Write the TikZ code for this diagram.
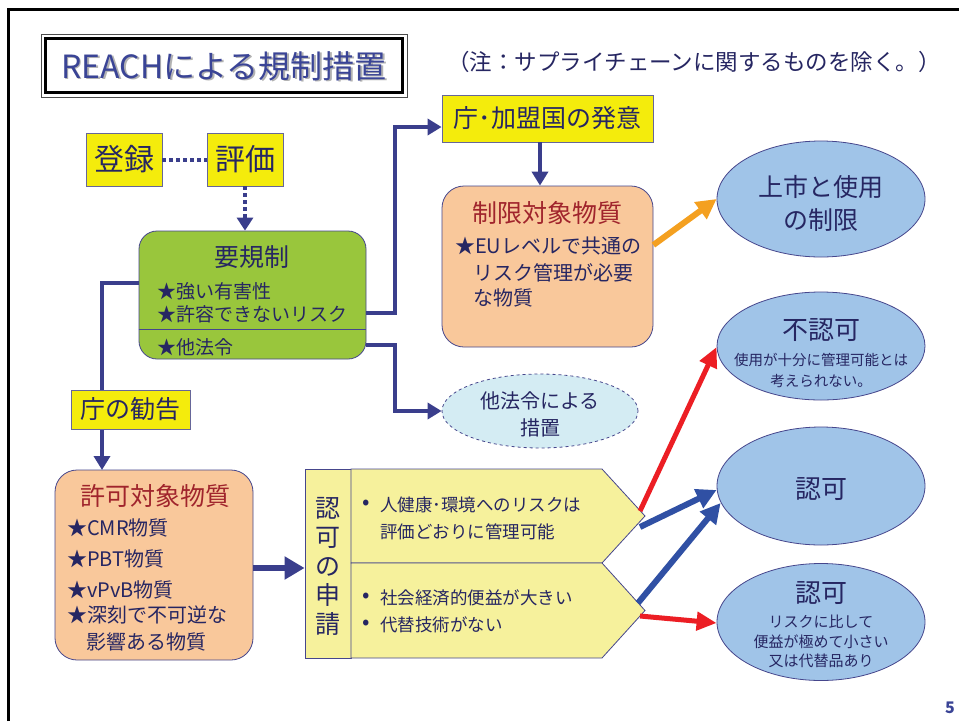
\documentclass[tikz,border=0pt]{standalone}
\usepackage{fontspec}
\setmainfont{Noto Sans CJK JP}
\usetikzlibrary{arrows.meta,shapes.geometric,calc}
\definecolor{txt}{RGB}{38,38,98}
\definecolor{ttl}{RGB}{58,68,150}
\definecolor{conn}{RGB}{58,62,140}
\definecolor{yel}{RGB}{244,236,12}
\definecolor{lyel}{RGB}{246,241,156}
\definecolor{grn}{RGB}{153,198,60}
\definecolor{org}{RGB}{249,200,155}
\definecolor{dred}{RGB}{160,36,44}
\definecolor{ell}{RGB}{160,196,232}
\definecolor{cyan1}{RGB}{212,236,243}
\definecolor{arred}{RGB}{236,30,36}
\definecolor{arblue}{RGB}{48,80,164}
\definecolor{arorg}{RGB}{244,160,32}
\definecolor{bord}{RGB}{70,70,140}
\newcommand{\fs}[1]{\fontsize{#1}{#1}\selectfont}
\begin{document}
\begin{tikzpicture}[x=1pt,y=-1pt,
  lbl/.style={inner sep=0,text=txt},
  ybox/.style={draw=gray!80!blue,fill=yel,line width=0.8pt,inner sep=0},
  obox/.style={draw=bord,fill=org,line width=0.8pt,rounded corners=22pt,inner sep=0},
  ellbox/.style={ellipse,draw=bord,fill=ell,line width=0.8pt,inner sep=0},
  cn/.style={draw=conn,line width=4pt},
  cntip/.style={-{Triangle[length=14pt,width=16pt]}},
  fat/.style={line width=6pt,-{Triangle[length=20pt,width=20pt]}},
  thin/.style={line width=5pt,-{Triangle[length=20pt,width=18pt]}}]
\useasboundingbox (0,0) rectangle (959,721);
\fill[white] (0,0) rectangle (959,721);
\draw[line width=3pt] (8,721) -- (8,9) -- (959,9);
% title
\node[draw=black!70,line width=0.8pt,minimum width=366pt,minimum height=63pt,inner sep=0] (tb) at (224,65.5) {};
\draw[line width=3.5pt] (45.5,38.5) rectangle (402.5,92.5);
\node[lbl,text=black!30,font=\fs{32}] (tsh) at (225.5,67.5) {REACHによる規制措置};
\node[lbl,text=ttl,font=\fs{32}] (tt) at (224,66) {REACHによる規制措置};
\node[lbl,font=\fs{22.5}] (note) at (694,62) {（注：サプライチェーンに関するものを除く。）};
% registration / evaluation
\node[ybox,minimum width=76pt,minimum height=53pt,font=\fs{30}] (reg) at (124,159.5) {\textcolor{txt}{登録}};
\node[ybox,minimum width=76pt,minimum height=53pt,font=\fs{30}] (eva) at (245,159.5) {\textcolor{txt}{評価}};
% green box
\node[draw=bord,fill=grn,line width=0.8pt,rounded corners=18pt,minimum width=227pt,minimum height=128pt,inner sep=0] (g) at (252.5,295) {};
\draw[bord,line width=0.8pt] ([yshift=-34pt]g.west) -- ([yshift=-34pt]g.east);
\node[lbl,font=\fs{25}] (gt) at (252,257) {要規制};
\node[lbl,font=\fs{19},anchor=west] (g1) at (157,291) {★強い有害性};
\node[lbl,font=\fs{19},anchor=west] (g2) at (157,314) {★許容できないリスク};
\node[lbl,font=\fs{19},anchor=west] (g3) at (157,347) {★他法令};
\draw[cn,dash pattern=on 4pt off 3pt] (reg.east) -- (eva.west);
\draw[cn,dash pattern=on 4pt off 3pt,-{Triangle[length=13pt,width=16pt]}] (eva.south) -- (eva.south |- g.north);
% agency/member state initiative
\node[ybox,minimum width=211pt,minimum height=47pt,font=\fs{25}] (f) at (547.5,118.5) {\textcolor{txt}{庁･加盟国の発意}};
\coordinate (c1) at (395,127);
\draw[cn,cntip] ([yshift=-18pt]g.east) -| (c1) -- (c1 -| f.west);
% restriction box
\node[obox,minimum width=211pt,minimum height=161pt] (r) at (547.5,266.5) {};
\draw[cn,cntip] (f.south -| 540,0) -- (r.north -| 540,0);
\node[lbl,text=dred,font=\fs{25}] (rt) at (547,213) {制限対象物質};
\node[lbl,font=\fs{20},anchor=west] (r1) at (455,246) {★EUレベルで共通の};
\node[lbl,font=\fs{20},anchor=west] (r2) at (473,273) {リスク管理が必要};
\node[lbl,font=\fs{20},anchor=west] (r3) at (473,298) {な物質};
% ellipses
\node[ellbox,minimum width=208pt,minimum height=116pt] (e1) at (821,199) {};
\node[lbl,font=\fs{25}] (e1a) at (821,187) {上市と使用};
\node[lbl,font=\fs{25}] (e1b) at (821,220) {の制限};
\draw[line width=6pt,arorg,-{Triangle[length=20pt,width=20pt]}] ([yshift=21.5pt]r.east) -- (e1.west);
\node[ellbox,minimum width=208pt,minimum height=108pt] (e2) at (821,346) {};
\node[lbl,font=\fs{26}] (e2a) at (821,330) {不認可};
\node[lbl,font=\fs{14.5}] (e2b) at (821,360) {使用が十分に管理可能とは};
\node[lbl,font=\fs{14.5}] (e2c) at (821,381) {考えられない。};
\node[ellbox,minimum width=208pt,minimum height=118pt] (e3) at (821,486) {};
\node[lbl,font=\fs{26}] (e3a) at (821,489) {認可};
\node[ellbox,minimum width=208pt,minimum height=117pt] (e4) at (821,622) {};
\node[lbl,font=\fs{26}] (e4a) at (821,593) {認可};
\node[lbl,font=\fs{15}] (e4b) at (821,622) {リスクに比して};
\node[lbl,font=\fs{15}] (e4c) at (821,642) {便益が極めて小さい};
\node[lbl,font=\fs{15}] (e4d) at (821,661) {又は代替品あり};
% other law
\node[ellipse,draw=bord,dashed,fill=cyan1,line width=0.8pt,minimum width=196pt,minimum height=74pt,inner sep=0] (o) at (540,411) {};
\node[lbl,font=\fs{20}] (oa) at (540,401) {他法令による};
\node[lbl,font=\fs{20}] (ob) at (540,428) {措置};
\coordinate (c2) at (395,411);
\draw[cn,cntip] ([yshift=-50pt]g.east) -| (c2) -- (o.west);
% agency recommendation
\coordinate (c3) at (102,283);
\coordinate (c4) at (102,470);
\draw[cn,cntip] ([yshift=12pt]g.west) -- (c3) -- (c4);
\node[ybox,minimum width=119pt,minimum height=39pt,font=\fs{25}] (k) at (130.5,409.5) {\textcolor{txt}{庁の勧告}};
% permit box
\node[obox,minimum width=198pt,minimum height=190pt] (p) at (154,565) {};
\node[lbl,text=dred,font=\fs{25}] (pt) at (155,496) {許可対象物質};
\node[lbl,font=\fs{20},anchor=west] (p1) at (67,528) {★CMR物質};
\node[lbl,font=\fs{20},anchor=west] (p2) at (67,559) {★PBT物質};
\node[lbl,font=\fs{20},anchor=west] (p3) at (67,590) {★vPvB物質};
\node[lbl,font=\fs{20},anchor=west] (p4) at (67,615) {★深刻で不可逆な};
\node[lbl,font=\fs{20},anchor=west] (p5) at (86,642) {影響ある物質};
% application
\node[draw=bord,fill=lyel,line width=0.8pt,minimum width=46pt,minimum height=189pt,inner sep=0] (ac) at (328,563.5) {};
\draw[bord,fill=lyel,line width=0.8pt] (351,469) -- (602,469) -- (645,516) -- (602,563) -- (351,563) -- cycle;
\draw[bord,fill=lyel,line width=0.8pt] (351,563) -- (602,563) -- (645,610.5) -- (602,658) -- (351,658) -- cycle;
\node[lbl,font=\fontsize{25}{29}\selectfont,align=center] (at) at (328,566) {認\\可\\の\\申\\請};
\draw[conn,line width=6pt,-{Triangle[length=20pt,width=22pt]}] ([yshift=-3pt]p.east) -- ([yshift=-3pt]p.east -| ac.west);
\node[lbl,font=\fs{22}] (b1) at (366,505) {•};
\node[lbl,font=\fs{17.5},anchor=west] (u1) at (380,505) {人健康･環境へのリスクは};
\node[lbl,font=\fs{17.5},anchor=west] (u2) at (380,532) {評価どおりに管理可能};
\node[lbl,font=\fs{22}] (b2) at (366,598) {•};
\node[lbl,font=\fs{17.5},anchor=west] (l1) at (380,598) {社会経済的便益が大きい};
\node[lbl,font=\fs{22}] (b3) at (366,625) {•};
\node[lbl,font=\fs{17.5},anchor=west] (l2) at (380,625) {代替技術がない};
% outcome arrows
\coordinate (s1) at (640,511);
\coordinate (s2) at (640,527);
\coordinate (s3) at (638,603);
\coordinate (s4) at (640,616);
\draw[arred,thin] (s1) -- ([yshift=-1pt]e2.west);
\draw[arblue,fat] (s2) -- ([yshift=-4pt]e3.west);
\draw[arblue,fat] (s3) -- ([xshift=4pt,yshift=-17pt]e3.west);
\draw[arred,thin] (s4) -- ([yshift=-1pt]e4.west);
\node[lbl,text=ttl,font=\fs{16}] (pg) at (950,708) {\bfseries 5};
\end{tikzpicture}
\end{document}
